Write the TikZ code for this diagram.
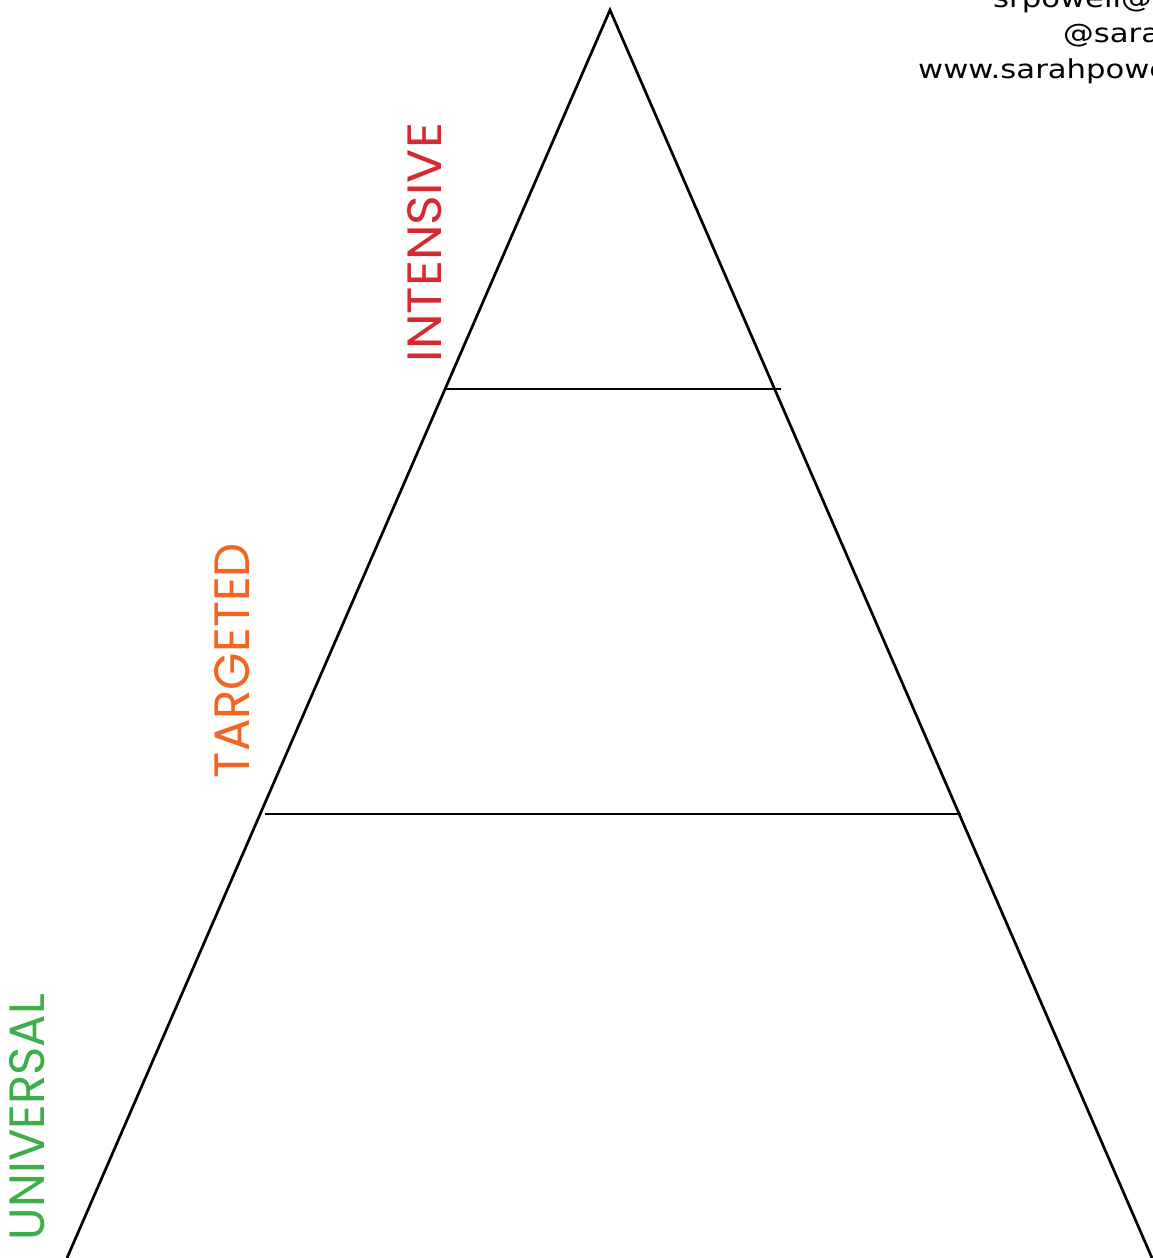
\documentclass[tikz,border=0pt]{standalone}
\usepackage{fontspec}
\setmainfont{Poppins}
\newfontfamily\infofont{DejaVu Sans}
\definecolor{intred}{HTML}{D42A30}
\definecolor{tarorange}{HTML}{F26522}
\definecolor{unigreen}{HTML}{3DAE49}
\tikzset{
  edge/.style={line width=2.7pt, black},
  tierlabel/.style={inner sep=0pt, rotate=90, anchor=center},
  info/.style={inner sep=0pt, anchor=base west, font=\infofont\fontsize{26}{30}\selectfont}
}
\newcommand{\wideinfo}[1]{\scalebox{1.18}[1]{#1}}
\begin{document}
\begin{tikzpicture}[x=1pt,y=-1pt]
\useasboundingbox (0,0) rectangle (1153,1258);
\clip (0,0) rectangle (1153,1258);
\fill[white] (0,0) rectangle (1153,1258);
\coordinate (apex) at (610,10);
\coordinate (bl) at (67,1258);
\coordinate (br) at (1152,1258);
\coordinate (t1l) at (444,389);
\coordinate (t1r) at (781,389);
\coordinate (t2l) at (265,814);
\coordinate (t2r) at (961,814);
\draw[edge, line join=miter] (bl) -- (apex) -- (br);
\draw[edge] (t1l) -- (t1r);
\draw[edge] (t2l) -- (t2r);
\node[tierlabel, text=intred] (intensive) at (425,242.5) {\resizebox{239pt}{34pt}{INTENSIVE}};
\node[tierlabel, text=tarorange] (targeted) at (232.5,660.5) {\resizebox{235pt}{35pt}{TARGETED}};
\node[tierlabel, text=unigreen] (universal) at (27.5,1117) {\resizebox{246pt}{35pt}{UNIVERSAL}};
\node[info] (mail) at (993,7) {\wideinfo{srpowell@utexas.edu}};
\node[info] (handle) at (1063,42) {\wideinfo{@sarahpowellphd}};
\node[info] (web) at (918,78) {\wideinfo{www.sarahpowellphd.com}};
\end{tikzpicture}
\end{document}
